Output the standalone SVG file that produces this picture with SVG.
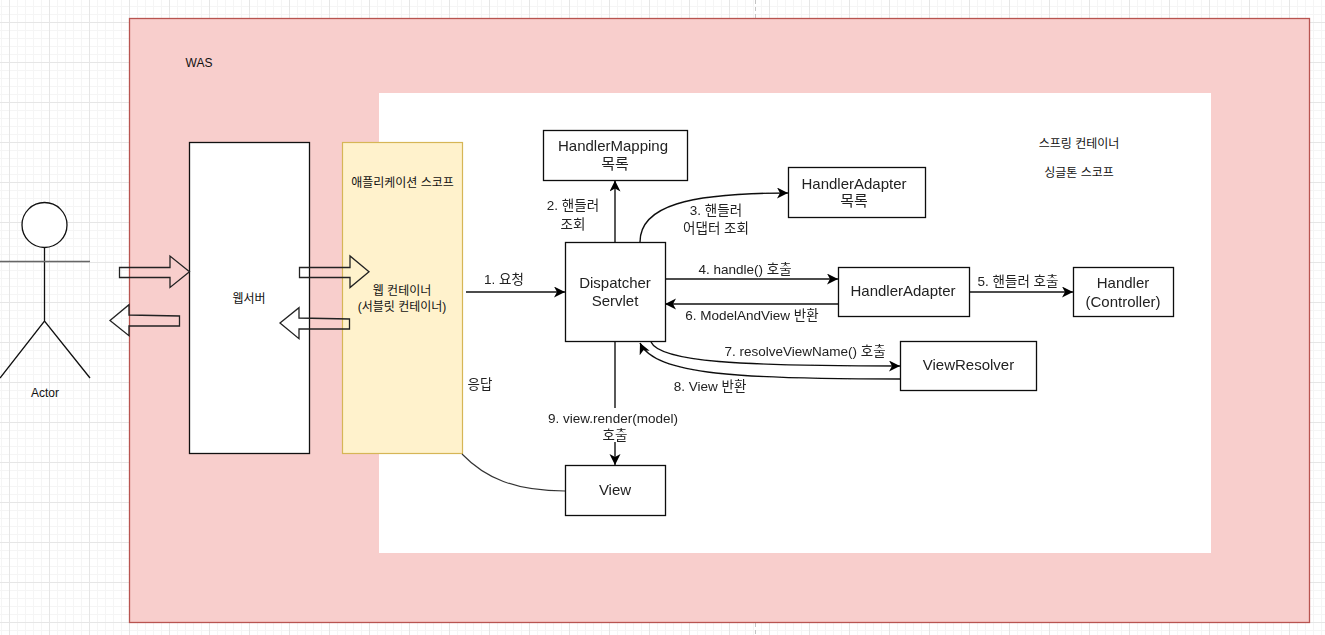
<svg xmlns="http://www.w3.org/2000/svg" width="1325" height="635" viewBox="0 0 1325 635">
<style>
text{font-family:"Liberation Sans","Noto Sans CJK KR",sans-serif;fill:#111;text-anchor:middle;font-size:12px}
.n{font-size:15px;fill:#222}
.l{font-size:13.500px;fill:#222}
.b{fill:#fff;stroke:#111;stroke-width:1.3}
.c{fill:none;stroke:#111;stroke-width:1.4}
.f{fill:none;stroke:#222;stroke-width:1.3}
.a{fill:none;stroke:#222;stroke-width:1.3}
</style>
<defs>
<filter id="soft" x="-5%" y="-5%" width="110%" height="110%"><feGaussianBlur stdDeviation="0.35"/></filter>
<pattern id="minor" width="8" height="8" patternUnits="userSpaceOnUse" x="1" y="6"><path d="M.5 0V8M0 .5H8" fill="none" stroke="#f5f5f5"/></pattern>
<pattern id="major" width="40" height="40" patternUnits="userSpaceOnUse" x="9" y="22"><path d="M.5 0V40M0 .5H40" fill="none" stroke="#e6e6e6"/></pattern>
<marker id="ah" markerWidth="13" markerHeight="12" refX="11" refY="5.500" orient="auto" markerUnits="userSpaceOnUse"><path d="M0 0L11 5.500L0 11L3 5.500Z" fill="#000"/></marker>
</defs>
<rect id="grid-minor" width="1325" height="635" fill="url(#minor)"/>
<rect id="grid-major" width="1325" height="635" fill="url(#major)"/>
<path id="page-break" d="M755.500 0V635" stroke="#c4c4c4" stroke-dasharray="4 3" fill="none"/>
<g id="was"><rect x="129.500" y="18.500" width="1180" height="604" fill="#f8cecc" stroke="#b85450" stroke-width="1.3"/><text x="199" y="67">WAS</text></g>
<g id="spring"><rect x="379" y="93" width="832" height="460" fill="#fff"/><text x="1079" y="148">스프링 컨테이너</text><text x="1079" y="177">싱글톤 스코프</text></g>
<g id="webserver"><rect class="b" x="189.500" y="142.500" width="120" height="311"/><text x="249" y="303">웹서버</text></g>
<g id="container"><rect x="342.500" y="142.500" width="120" height="311" fill="#fff2cc" stroke="#d6b656" stroke-width="1.2"/><text x="402.500" y="187">애플리케이션 스코프</text><text x="402" y="295">웹 컨테이너</text><text x="402" y="311">(서블릿 컨테이너)</text></g>
<g id="actor" class="f" style="stroke:#111"><circle cx="44.500" cy="225" r="22.500" fill="#fff"/><path d="M44.500 247.500V321M0 378L44.500 321L90 378" fill="none"/><path d="M0 261.500H90" stroke="#666" stroke-width="1.6" fill="none"/><text x="45" y="397" style="stroke:none">Actor</text></g>
<g id="flow-arrows">
<path class="a" d="M119.500 267.500H170V256L189.500 271.700L170 287.500V277.500H119.500Z"/>
<path class="a" d="M179.500 316V326H129V335.700L110 320.500L129 304.700V315Z"/>
<path class="a" d="M299.500 267.500H350V256L369 271.700L350 287.500V277.500H299.500Z"/>
<path class="a" d="M349.500 319V329H299V338.700L280 323L299 307.700V318Z"/>
</g>
<g id="connectors" filter="url(#soft)">
<path class="c" d="M466 292H565" marker-end="url(#ah)"/>
<path class="c" d="M615 242V180.500" marker-end="url(#ah)"/>
<path class="c" d="M640 242C640 206 688 193 788 193" marker-end="url(#ah)"/>
<path class="c" d="M665 279H838" marker-end="url(#ah)"/>
<path class="c" d="M969 292H1073" marker-end="url(#ah)"/>
<path class="c" d="M838 304H665" marker-end="url(#ah)"/>
<path class="c" d="M651 342C660 362 740 366 900 366" marker-end="url(#ah)"/>
<path class="c" d="M900 379C740 379 655 375 640 343" marker-end="url(#ah)"/>
<path class="c" d="M615 342V465" marker-end="url(#ah)"/>
<path class="c" d="M565 491C515 491 485 478 462 454" style="stroke-width:1.100;stroke:#333"/>
<rect x="545" y="408" width="136" height="34" fill="#fff"/>
<text class="l" x="504" y="284">1. 요청</text>
<text class="l" x="573" y="210">2. 핸들러</text><text class="l" x="573" y="229">조회</text>
<text class="l" x="716" y="215">3. 핸들러</text><text class="l" x="716" y="233">어댑터 조회</text>
<text class="l" x="745" y="274">4. handle() 호출</text>
<text class="l" x="1018" y="286">5. 핸들러 호출</text>
<text class="l" x="752" y="320">6. ModelAndView 반환</text>
<text class="l" x="805" y="356">7. resolveViewName() 호출</text>
<text class="l" x="710" y="391">8. View 반환</text>
<text class="l" x="613" y="423">9. view.render(model)</text><text class="l" x="615" y="440">호출</text>
<text class="l" x="480" y="389">응답</text>
</g>
<g id="handlermapping" filter="url(#soft)"><rect class="b" x="543.500" y="130.500" width="144" height="50"/><text class="n" x="613" y="151">HandlerMapping</text><text class="n" x="615" y="169">목록</text></g>
<g id="handleradapter-list" filter="url(#soft)"><rect class="b" x="788.500" y="167.500" width="137" height="50"/><text class="n" x="854" y="189">HandlerAdapter</text><text class="n" x="854" y="206">목록</text></g>
<g id="dispatcher" filter="url(#soft)"><rect class="b" x="565.500" y="242.500" width="100" height="99"/><text class="n" x="615" y="288">Dispatcher</text><text class="n" x="615" y="306">Servlet</text></g>
<g id="handleradapter" filter="url(#soft)"><rect class="b" x="838.500" y="267.500" width="131" height="49"/><text class="n" x="903" y="296">HandlerAdapter</text></g>
<g id="handler" filter="url(#soft)"><rect class="b" x="1073.500" y="267.500" width="100" height="49"/><text class="n" x="1123" y="288">Handler</text><text class="n" x="1123" y="307">(Controller)</text></g>
<g id="viewresolver" filter="url(#soft)"><rect class="b" x="900.500" y="341.500" width="136" height="49"/><text class="n" x="968.500" y="370">ViewResolver</text></g>
<g id="view" filter="url(#soft)"><rect class="b" x="565.500" y="465.500" width="100" height="50"/><text class="n" x="615" y="495">View</text></g>
</svg>
